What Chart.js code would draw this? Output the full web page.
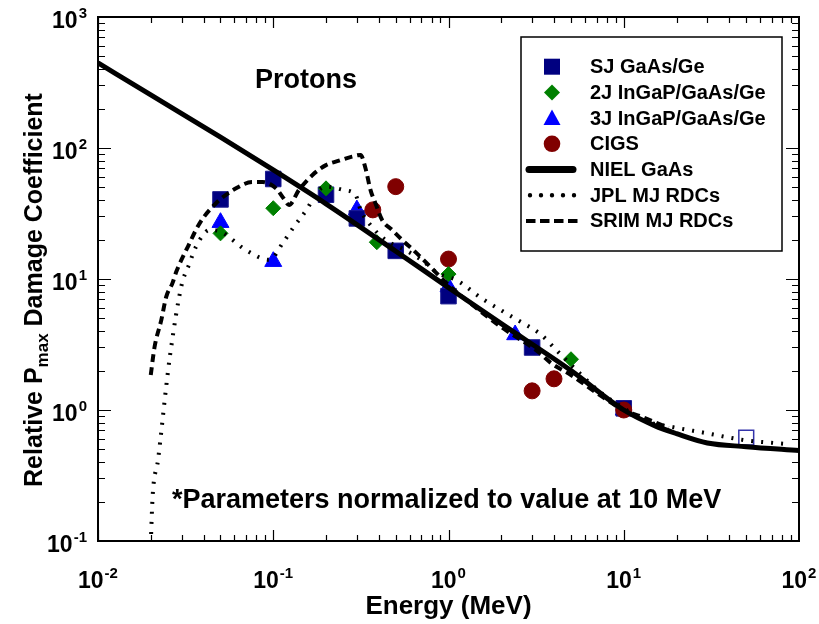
<!DOCTYPE html>
<html><head><meta charset="utf-8">
<script src="https://cdn.jsdelivr.net/npm/chart.js@4/dist/chart.umd.min.js"></script>
<style>html,body{margin:0;padding:0;background:#fff}#wrap{width:819px;height:624px;position:relative}</style>
</head><body><div id="wrap"><canvas id="c" width="819" height="624"></canvas></div>
<script>
const FONT = '"Liberation Sans", Arial, Helvetica, sans-serif';

// axis ticks (base 10 with exponent)
const xTickValues = [0.01, 0.1, 1, 10, 100];
const xTickExponents = ['-2', '-1', '0', '1', '2'];
const yTickValues = [0.1, 1, 10, 100, 1000];
const yTickExponents = ['-1', '0', '1', '2', '3'];

// measured points
const sjEnergy = [0.05, 0.1, 0.2, 0.3, 0.5, 1, 3, 10];
const sjValue = [40.5, 58, 44, 29, 16.4, 7.4, 3.0, 1.03];
const sjOpenEnergy = [50];
const sjOpenValue = [0.615];
const twoJEnergy = [0.05, 0.1, 0.2, 0.39, 1, 5];
const twoJValue = [22.3, 34.7, 49.2, 19.1, 10.9, 2.44];
const threeJEnergy = [0.05, 0.1, 0.3, 1, 2.4, 10];
const threeJValue = [27, 13.6, 33.7, 8.7, 3.75, 1.0];
const cigsEnergy = [0.37, 0.5, 1, 3, 4, 10];
const cigsValue = [33.7, 50.7, 14.2, 1.40, 1.73, 1.0];

// curves
const nielEnergy = [0.01, 0.02, 0.05, 0.1, 0.2, 0.5, 1, 2, 5, 10, 15, 20, 30, 50, 100];
const nielValue = [446, 254, 121, 68, 37.5, 16.3, 8.6, 4.56, 2.0, 1.0, 0.76, 0.66, 0.56, 0.525, 0.49];
const jplEnergy = [0.02, 0.0205, 0.022, 0.0245, 0.0257, 0.03, 0.033, 0.0363, 0.0433, 0.05, 0.07, 0.095, 0.113, 0.131, 0.157, 0.175, 0.2, 0.253, 0.295, 0.315, 0.366, 0.436, 0.567, 0.7, 0.877, 1.11, 1.55, 2.39, 3.39, 4.12, 5.48, 7.1, 10, 13.7, 19.4, 28.7, 48.5, 85];
const jplValue = [0.095, 0.22, 0.415, 1.51, 2.55, 9.0, 12.8, 17.7, 23.7, 23, 16.6, 14, 18.7, 25, 34.7, 45, 50.7, 47.7, 43.8, 33.7, 25, 19.9, 16.6, 14, 11, 9.8, 7.1, 5.0, 3.74, 2.87, 1.96, 1.42, 1.03, 0.815, 0.737, 0.671, 0.59, 0.55];
const srimEnergy = [0.02, 0.021, 0.023, 0.0245, 0.0266, 0.028, 0.0326, 0.038, 0.047, 0.061, 0.076, 0.087, 0.104, 0.115, 0.123, 0.14, 0.167, 0.2, 0.237, 0.282, 0.315, 0.336, 0.359, 0.383, 0.418, 0.476, 0.543, 0.646, 0.77, 1, 1.3, 2, 3.24, 3.87, 5, 7, 10, 12.6, 15.3, 18];
const srimValue = [1.85, 3.0, 4.9, 7.3, 9.3, 11.4, 17.7, 26.6, 37.7, 49, 55, 55, 49, 41, 36.7, 47.7, 62, 74, 80, 86, 88.5, 70, 47.7, 37.8, 28.2, 23.7, 19.9, 16.1, 12.8, 9.0, 6.7, 4.3, 2.79, 2.27, 1.85, 1.35, 1.0, 0.89, 0.8, 0.73];

const toXY = (xs, ys) => xs.map((x, i) => ({x: x, y: ys[i]}));

const lineBase = {showLine: true, pointRadius: 0, pointHoverRadius: 0, borderColor: '#000', backgroundColor: '#000', cubicInterpolationMode: 'monotone', borderCapStyle: 'butt', order: 0};
const markBase = {showLine: false, borderWidth: 1};

const datasets = [
  Object.assign({label: 'NIEL GaAs', data: toXY(nielEnergy, nielValue), borderWidth: 5}, lineBase),
  Object.assign({label: 'JPL MJ RDCs', data: toXY(jplEnergy, jplValue)}, lineBase, {borderWidth: 4, borderDash: [2, 8]}),
  Object.assign({label: 'SRIM MJ RDCs', data: toXY(srimEnergy, srimValue)}, lineBase, {borderWidth: 4, borderDash: [8, 5]}),
  Object.assign({label: '2J InGaP/GaAs/Ge', data: toXY(twoJEnergy, twoJValue), pointStyle: 'rectRot', pointRadius: 7.5, backgroundColor: '#008000', borderColor: '#008000', order: 1}, markBase),
  Object.assign({label: 'CIGS', data: toXY(cigsEnergy, cigsValue), pointStyle: 'circle', pointRadius: 8, backgroundColor: '#800000', borderColor: '#800000', order: 2}, markBase),
  Object.assign({label: 'SJ GaAs/Ge', data: toXY(sjEnergy, sjValue), pointStyle: 'rect', pointRadius: 11, backgroundColor: '#000080', borderColor: '#1a1a90', order: 3}, markBase),
  Object.assign({label: 'SJ GaAs/Ge (open)', data: toXY(sjOpenEnergy, sjOpenValue), pointStyle: 'rect', pointRadius: 10.5, backgroundColor: 'rgba(255,255,255,0)', borderColor: '#3333aa', order: 3}, markBase, {borderWidth: 1.5}),
  Object.assign({label: '3J InGaP/GaAs/Ge', data: toXY(threeJEnergy, threeJValue), pointStyle: 'triangle', pointRadius: 9.8, backgroundColor: '#0000ff', borderColor: '#0000ff', order: 4}, markBase)
];

const legendItems = [
  {label: 'SJ GaAs/Ge', kind: 'rect', color: '#000080'},
  {label: '2J InGaP/GaAs/Ge', kind: 'diamond', color: '#008000'},
  {label: '3J InGaP/GaAs/Ge', kind: 'triangle', color: '#0000ff'},
  {label: 'CIGS', kind: 'circle', color: '#800000'},
  {label: 'NIEL GaAs', kind: 'solid', color: '#000'},
  {label: 'JPL MJ RDCs', kind: 'dotted', color: '#000'},
  {label: 'SRIM MJ RDCs', kind: 'dashed', color: '#000'}
];

const BASE_FONT = 'bold 23px ' + FONT;
const EXP_FONT = 'bold 15px ' + FONT;

function drawPow(ctx, exp, x, y, align) {
  // x,y: anchor; baseline of "10" at y
  ctx.font = BASE_FONT; const w1 = ctx.measureText('10').width;
  ctx.font = EXP_FONT; const w2 = ctx.measureText(exp).width;
  const tot = w1 + w2 + 1;
  let sx = align === 'center' ? x - tot / 2 : x - tot;
  ctx.textAlign = 'left';
  ctx.textBaseline = 'alphabetic';
  ctx.font = BASE_FONT; ctx.fillText('10', sx, y);
  ctx.font = EXP_FONT; ctx.fillText(exp, sx + w1 + 1, y - 10);
}

const decoPlugin = {
  id: 'deco',
  afterDatasetsDraw(chart) {
    const ctx = chart.ctx;
    const a = chart.chartArea;
    const xs = chart.scales.x, ys = chart.scales.y;
    ctx.save();
    ctx.strokeStyle = '#000';
    // inward ticks
    ctx.lineWidth = 1.2;
    ctx.beginPath();
    for (let d = -2; d < 2; d++) {
      for (let m = 1; m <= 9; m++) {
        const v = m * Math.pow(10, d);
        const px = Math.round(xs.getPixelForValue(v)) + 0.5;
        const len = m === 1 ? 11 : 6;
        ctx.moveTo(px, a.bottom); ctx.lineTo(px, a.bottom - len);
        ctx.moveTo(px, a.top); ctx.lineTo(px, a.top + len);
      }
    }
    for (let d = -1; d < 3; d++) {
      for (let m = 1; m <= 9; m++) {
        const v = m * Math.pow(10, d);
        const py = Math.round(ys.getPixelForValue(v)) + 0.5;
        const len = m === 1 ? 13 : 7;
        ctx.moveTo(a.left, py); ctx.lineTo(a.left + len, py);
        ctx.moveTo(a.right, py); ctx.lineTo(a.right - len, py);
      }
    }
    ctx.stroke();
    // frame
    ctx.lineWidth = 2;
    ctx.strokeRect(a.left, a.top, a.right - a.left, a.bottom - a.top);

    // tick labels
    ctx.fillStyle = '#000';
    xTickValues.forEach((v, i) => drawPow(ctx, xTickExponents[i], xs.getPixelForValue(v), a.bottom + 47, 'center'));
    yTickValues.forEach((v, i) => drawPow(ctx, yTickExponents[i], a.left - 11, ys.getPixelForValue(v) + 11, 'right'));

    // annotations
    ctx.fillStyle = '#000';
    ctx.textBaseline = 'alphabetic';
    ctx.textAlign = 'center';
    ctx.font = 'bold 27px ' + FONT;
    ctx.fillText('Protons', 306, 88);
    ctx.textAlign = 'left';
    ctx.fillText('*Parameters normalized to value at 10 MeV', 172, 508);

    // y title with subscript
    const main1 = 'Relative P', sub = 'max', main2 = ' Damage Coefficient';
    const fMain = 'bold 25px ' + FONT, fSub = 'bold 17px ' + FONT;
    ctx.font = fMain; const w1 = ctx.measureText(main1).width, w3 = ctx.measureText(main2).width;
    ctx.font = fSub; const w2 = ctx.measureText(sub).width;
    const total = w1 + w2 + w3;
    ctx.save();
    ctx.translate(42, 290);
    ctx.rotate(-Math.PI / 2);
    let x0 = -total / 2;
    ctx.font = fMain; ctx.fillText(main1, x0, 0);
    ctx.font = fSub; ctx.fillText(sub, x0 + w1, 6);
    ctx.font = fMain; ctx.fillText(main2, x0 + w1 + w2, 0);
    ctx.restore();

    // legend
    const L = {x: 521, y: 37, w: 261, h: 214};
    ctx.fillStyle = '#fff';
    ctx.fillRect(L.x, L.y, L.w, L.h);
    ctx.lineWidth = 1.5;
    ctx.strokeStyle = '#000';
    ctx.strokeRect(L.x, L.y, L.w, L.h);
    const mx = 552, tx = 590;
    legendItems.forEach((it, i) => {
      const cy = 66.7 + i * 25.7;
      ctx.fillStyle = it.color; ctx.strokeStyle = it.color;
      ctx.beginPath();
      if (it.kind === 'rect') {
        ctx.fillRect(mx - 8, cy - 8, 16, 16);
      } else if (it.kind === 'diamond') {
        ctx.moveTo(mx, cy - 8); ctx.lineTo(mx + 8, cy); ctx.lineTo(mx, cy + 8); ctx.lineTo(mx - 8, cy); ctx.closePath(); ctx.fill();
      } else if (it.kind === 'triangle') {
        ctx.moveTo(mx, cy - 8.5); ctx.lineTo(mx + 8.5, cy + 7); ctx.lineTo(mx - 8.5, cy + 7); ctx.closePath(); ctx.fill();
      } else if (it.kind === 'circle') {
        ctx.arc(mx, cy, 8.3, 0, Math.PI * 2); ctx.fill();
      } else if (it.kind === 'solid') {
        ctx.lineWidth = 7; ctx.lineCap = 'round';
        ctx.moveTo(529, cy); ctx.lineTo(573, cy); ctx.stroke();
      } else if (it.kind === 'dotted') {
        for (let k = 0; k < 5; k++) { ctx.moveTo(530 + k * 11 + 2.2, cy); ctx.arc(530 + k * 11, cy, 2.2, 0, Math.PI * 2); }
        ctx.fill();
      } else if (it.kind === 'dashed') {
        ctx.lineWidth = 4; ctx.lineCap = 'butt';
        ctx.setLineDash([9.5, 4.5]);
        ctx.moveTo(526, cy); ctx.lineTo(578, cy); ctx.stroke();
        ctx.setLineDash([]);
      }
      ctx.fillStyle = '#000';
      ctx.font = 'bold 20px ' + FONT;
      ctx.textBaseline = 'middle';
      ctx.textAlign = 'left';
      ctx.fillText(it.label, tx, cy + 1);
    });
    ctx.restore();
  }
};

new Chart(document.getElementById('c'), {
  type: 'scatter',
  data: {datasets: datasets},
  options: {
    responsive: false,
    animation: false,
    devicePixelRatio: 1,
    layout: {padding: {left: 0, right: 20, top: 17, bottom: 0}},
    plugins: {legend: {display: false}, tooltip: {enabled: false}},
    scales: {
      x: {
        type: 'logarithmic', min: 0.01, max: 100, position: 'bottom',
        afterBuildTicks: (s) => { s.ticks = xTickValues.map(v => ({value: v, major: true})); },
        afterFit: (s) => { s.height = 83; s.paddingLeft = 0; s.paddingRight = 0; },
        ticks: {display: false},
        grid: {display: false},
        border: {display: false},
        title: {display: true, text: 'Energy (MeV)', color: '#000', font: {family: FONT, size: 26, weight: 'bold'}, padding: {top: 0, bottom: 2}}
      },
      y: {
        type: 'logarithmic', min: 0.1, max: 1000, position: 'left',
        afterBuildTicks: (s) => { s.ticks = yTickValues.map(v => ({value: v, major: true})); },
        afterFit: (s) => { s.width = 98; s.paddingTop = 0; s.paddingBottom = 0; },
        ticks: {display: false},
        grid: {display: false},
        border: {display: false}
      }
    }
  },
  plugins: [decoPlugin]
});
</script>
</body></html>
